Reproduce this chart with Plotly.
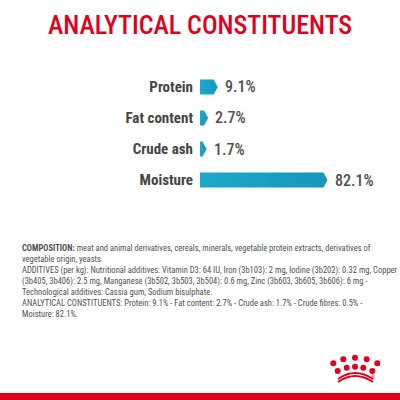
import plotly.graph_objects as go

# data
nutrients = ["Protein", "Fat content", "Crude ash", "Moisture"]
percent = [9.1, 2.7, 1.7, 82.1]
value_labels = ["9.1%", "2.7%", "1.7%", "82.1%"]

composition_lines = [
    "<b>COMPOSITION:</b> meat and animal derivatives, cereals, minerals, vegetable protein extracts, derivatives of",
    "vegetable origin, yeasts.",
    "ADDITIVES (per kg): Nutritional additives: Vitamin D3: 64 IU, Iron (3b103): 2 mg, Iodine (3b202): 0.32 mg, Copper",
    "(3b405, 3b406): 2.5 mg, Manganese (3b502, 3b503, 3b504): 0.6 mg, Zinc (3b603, 3b605, 3b606): 6 mg -",
    "Technological additives: Cassia gum, Sodium bisulphate.",
    "ANALYTICAL CONSTITUENTS: Protein: 9.1% - Fat content: 2.7% - Crude ash: 1.7% - Crude fibres: 0.5% -",
    "Moisture: 82.1%.",
]

RED = "#E2001A"
GREY = "#454545"
COND = "Roboto Condensed, DejaVu Sans Condensed, sans-serif"
TIP = 2.7    # arrow point length, in axis units
HALF = 0.24  # half bar thickness, in category units

fig = go.Figure()

# arrow-shaped bars, one polygon per nutrient
for i, (name, v) in enumerate(zip(nutrients, percent)):
    fig.add_trace(go.Scatter(
        x=[0, v, v + TIP, v, 0, 0],
        y=[i - HALF, i - HALF, i, i + HALF, i + HALF, i - HALF],
        mode="lines",
        line=dict(width=0),
        fill="toself",
        fillgradient=dict(type="horizontal",
                          colorscale=[[0, "#1EA8C9"], [1, "#1597BE"]]),
        hoverinfo="skip",
        showlegend=False,
    ))
    fig.add_annotation(
        x=v + TIP, y=i, text=value_labels[i], showarrow=False,
        xanchor="left", xshift=5,
        font=dict(family=COND, size=16, color="#505050", weight=500),
    )

fig.update_layout(
    width=400, height=400,
    margin=dict(l=0, r=0, t=0, b=0),
    paper_bgcolor="white", plot_bgcolor="white",
    xaxis=dict(domain=[0.5, 1.0], range=[0, 133], visible=False, fixedrange=True),
    yaxis=dict(
        domain=[0.51125, 0.82125], range=[3.5, -0.5],
        tickvals=list(range(len(nutrients))), ticktext=nutrients,
        showgrid=False, zeroline=False, showline=False, ticks="",
        ticklabelstandoff=6,
        tickfont=dict(family=COND, size=15, color=GREY, weight="bold"),
    ),
)

# title
fig.add_annotation(
    x=0.5, y=1 - 25 / 400, xref="paper", yref="paper", yanchor="middle",
    text="ANALYTICAL CONSTITUENTS", showarrow=False,
    font=dict(family=COND, size=26, color=RED, weight=500),
)

# composition text
fig.add_annotation(
    x=20 / 400, y=1 - 241 / 400, xref="paper", yref="paper",
    xanchor="left", yanchor="top", align="left",
    text="<br>".join(composition_lines), showarrow=False,
    font=dict(family=COND, size=8.5, color="#505050"),
)

# crown logo + bottom stripe
dots = [(333.3, 363.3), (343.3, 359.3), (355, 357.7), (366.7, 359.3), (377.3, 363.3),
        (337.7, 371), (346.7, 367.7), (355, 366.7), (363.3, 367.7), (372.3, 371)]
for cx, cy in dots:
    fig.add_shape(type="circle", xref="paper", yref="paper",
                  x0=(cx - 3) / 400, x1=(cx + 3) / 400,
                  y0=1 - (cy + 3) / 400, y1=1 - (cy - 3) / 400,
                  fillcolor=RED, line=dict(width=0))
for off in (0, 3):
    fig.add_shape(type="path", xref="paper", yref="paper",
                  path=f"M {338/400} {1-(379+off)/400} Q {355/400} {1-(367+off)/400} {373/400} {1-(379+off)/400}",
                  line=dict(color=RED, width=1.8))
fig.add_annotation(x=377 / 400, y=1 - 382 / 400, xref="paper", yref="paper",
                   text="®", showarrow=False, font=dict(size=5, color=RED))
fig.add_shape(type="rect", xref="paper", yref="paper",
              x0=0, x1=1, y0=0, y1=7 / 400, fillcolor=RED, line=dict(width=0))

fig.write_html("out.html", config={"displayModeBar": False},
               post_script="document.body.style.margin='0';")
